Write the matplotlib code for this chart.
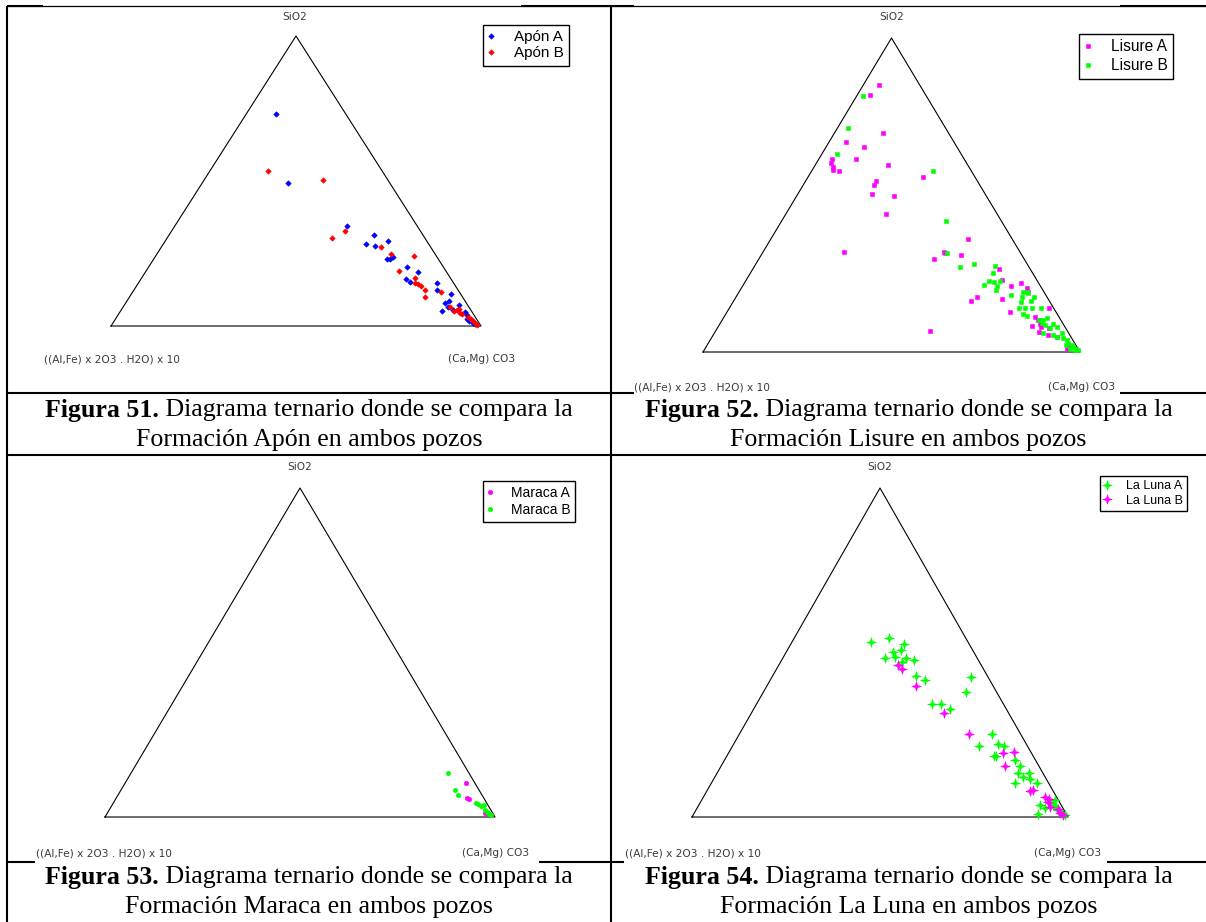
import numpy as np
import matplotlib.pyplot as plt
from matplotlib.path import Path

W, H = 1206, 922

# composiciones: SiO2 % y (Ca,Mg)CO3 %
apon_a_sio2 = [73.2, 49.2, 34.6, 31.5, 28.4, 27.7, 29.4, 23.0, 23.0, 23.7, 20.2, 18.7, 16.1, 15.3, 14.9,
               12.5, 10.9, 8.7, 7.8, 6.7, 7.1, 5.1, 5.5, 4.9, 3.8, 2.3, 1.7, 1.1, 0.7]
apon_a_co3 = [8.0, 23.2, 46.5, 55.2, 54.7, 57.4, 60.2, 63.2, 63.8, 64.4, 70.0, 73.7, 71.6, 73.1, 80.7,
              81.9, 86.5, 87.1, 86.5, 87.8, 90.5, 86.8, 89.8, 93.2, 94.2, 95.2, 96.0, 97.2, 98.0]
apon_b_sio2 = [53.6, 50.4, 32.9, 30.4, 27.1, 24.7, 24.0, 19.1, 16.7, 14.9, 14.5, 13.9, 12.5, 9.9, 11.8,
               6.7, 5.2, 5.5, 4.6, 4.1, 6.0, 3.2, 2.4, 1.7, 0.9, 0.3]
apon_b_co3 = [15.7, 32.1, 46.7, 44.6, 59.3, 63.3, 70.0, 68.3, 73.8, 74.7, 75.7, 76.9, 78.7, 80.0, 83.2,
              88.3, 90.1, 90.8, 92.0, 92.8, 91.1, 95.0, 96.0, 96.9, 97.9, 98.7]

lisure_a_sio2 = [85.0, 81.8, 69.7, 66.8, 65.3, 61.5, 61.4, 60.1, 59.0, 58.0, 57.6, 59.6, 55.7, 54.5, 53.2,
                 50.3, 49.7, 44.0, 31.8, 35.9, 31.8, 31.4, 30.9, 29.6, 6.7, 26.4, 22.8, 21.0, 21.9, 20.5,
                 19.0, 17.6, 16.2, 16.9, 12.7, 13.9, 11.1, 10.2, 8.9, 8.3, 7.9, 6.5, 7.5, 5.4, 4.9, 1.0, 1.7]
lisure_a_co3 = [4.3, 3.4, 12.8, 4.5, 10.1, 9.8, 3.4, 3.8, 5.0, 5.6, 7.2, 19.2, 30.5, 18.6, 18.8,
                19.8, 25.9, 26.6, 21.5, 52.4, 47.9, 48.5, 53.1, 46.5, 56.9, 65.4, 67.9, 71.1, 73.4, 75.6,
                76.8, 63.9, 63.1, 70.9, 75.1, 84.8, 82.6, 83.7, 84.9, 83.0, 85.8, 85.8, 88.1, 88.9, 91.4, 96.0, 96.5]
lisure_b_sio2 = [81.5, 71.3, 63.0, 57.6, 41.7, 31.5, 27.1, 28.0, 27.4, 25.1, 22.7, 22.4, 21.0, 22.6, 19.7,
                 21.3, 18.2, 19.2, 19.2, 18.7, 17.5, 17.6, 16.2, 16.0, 13.9, 13.9, 13.9, 12.1, 11.6, 13.9,
                 10.2, 10.2, 10.7, 9.1, 8.6, 8.9, 7.5, 7.9, 6.0, 5.4, 6.1, 4.7, 4.4, 3.8, 2.8, 2.2, 1.5,
                 1.1, 0.6, 2.2, 0.9, 0.5]
lisure_b_co3 = [1.6, 2.8, 4.0, 32.1, 43.6, 49.1, 54.6, 57.9, 63.8, 64.4, 64.6, 66.1, 67.4, 67.5, 67.8,
                63.9, 72.5, 75.2, 76.3, 76.9, 79.0, 75.7, 78.8, 76.3, 77.0, 78.5, 80.2, 78.8, 80.1, 82.6,
                84.1, 85.2, 86.0, 85.3, 86.4, 88.5, 88.3, 90.0, 87.3, 90.1, 92.1, 91.5, 93.4, 94.6, 95.5, 96.7, 97.5,
                98.4, 98.4, 95.2, 96.9, 99.2]

maraca_a_sio2 = [10.2, 5.9, 5.6, 1.1, 0.9]
maraca_a_co3 = [87.4, 89.9, 90.6, 96.9, 97.8]
maraca_b_sio2 = [13.4, 8.3, 6.7, 4.3, 3.9, 3.3, 3.7, 2.1, 1.6, 1.1, 0.8, 0.6]
maraca_b_co3 = [81.2, 85.6, 87.1, 92.9, 93.8, 94.7, 95.4, 96.4, 97.1, 97.7, 98.1, 98.7]

luna_a_sio2 = [53.3, 54.5, 52.5, 50.8, 50.1, 48.7, 48.4, 48.2, 47.2, 47.8, 42.9, 41.6, 42.6, 38.1, 34.3,
               34.3, 32.8, 25.2, 22.2, 21.6, 21.6, 18.5, 18.5, 17.3, 15.5, 13.3, 12.1, 13.3, 11.5, 10.4,
               10.4, 3.6, 0.9, 5.2, 3.6, 3.0, 2.1, 1.3, 0.6, 2.6, 4.3]
luna_a_co3 = [20.9, 25.1, 30.1, 30.1, 28.5, 29.7, 27.2, 32.8, 32.2, 35.2, 38.1, 41.3, 52.9, 53.7, 46.8,
              49.2, 52.3, 67.1, 70.4, 72.3, 65.6, 71.1, 71.7, 77.2, 79.5, 80.1, 82.1, 83.0, 84.2, 80.7,
              86.6, 90.7, 91.5, 94.0, 94.3, 95.3, 96.4, 97.7, 98.9, 92.6, 93.1]
luna_b_sio2 = [46.2, 45.0, 39.9, 31.5, 25.3, 19.5, 19.9, 15.5, 8.0, 8.2, 6.0, 5.4, 4.7, 3.0, 2.3, 1.1, 0.6]
luna_b_co3 = [31.8, 33.4, 39.6, 51.3, 61.0, 72.9, 75.7, 75.5, 85.9, 86.7, 90.9, 92.3, 92.2, 93.7, 96.3, 97.3, 98.3]

numeros = ['51', '52', '53', '54']
formaciones = ['Apón', 'Lisure', 'Maraca', 'La Luna']

# vertices: arcilla (0,0), carbonato (0,100), SiO2 (100,0)
vert_sio2 = [0, 0, 100, 0]
vert_co3 = [0, 100, 0, 0]


def tern(sio2, co3):
    s = np.asarray(sio2) / 100.0
    c = np.asarray(co3) / 100.0
    return c + s / 2.0, s


star4 = Path.unit_regular_star(4, innerCircle=0.32)

paneles = [
    # triangulo (izq, der, base, vertice), etiquetas, leyenda, pie
    dict(tri=(111, 481, 326, 36), sio2=(295, 17), lab_y=359, lab_l=44, lab_r=448,
         leg=(482.5, 25), legfs=11, legsp=0.14, cap_y=(410, 440),
         series=[(apon_a_sio2, apon_a_co3, '#0000ff', 'D', 2.8, 'Apón A'),
                 (apon_b_sio2, apon_b_co3, '#ff0000', 'D', 2.8, 'Apón B')]),
    dict(tri=(703, 1080, 352, 38), sio2=(891.5, 17.5), lab_y=387, lab_l=634, lab_r=1048,
         leg=(1079, 34), legfs=11.2, legsp=0.24, cap_y=(410, 440),
         series=[(lisure_a_sio2, lisure_a_co3, '#ff00ff', 's', 2.9, 'Lisure A'),
                 (lisure_b_sio2, lisure_b_co3, '#00ff00', 's', 2.9, 'Lisure B')]),
    dict(tri=(105, 495, 817, 488), sio2=(299.6, 467), lab_y=853, lab_l=36, lab_r=462,
         leg=(482.5, 481), legfs=10, legsp=0.24, cap_y=(877, 907),
         series=[(maraca_a_sio2, maraca_a_co3, '#ff00ff', 'o', 3.2, 'Maraca A'),
                 (maraca_b_sio2, maraca_b_co3, '#00ff00', 'o', 3.2, 'Maraca B')]),
    dict(tri=(692, 1068, 817, 488), sio2=(880, 467), lab_y=853, lab_l=625, lab_r=1034.5,
         leg=(1100, 475.5), legfs=9, legsp=0.22, cap_y=(877, 907),
         series=[(luna_a_sio2, luna_a_co3, '#00ff00', star4, 7, 'La Luna A'),
                 (luna_b_sio2, luna_b_co3, '#ff00ff', star4, 7, 'La Luna B')]),
]

fig = plt.figure(figsize=(W / 100, H / 100), dpi=100)
bg = fig.add_axes([0, 0, 1, 1])
bg.set_xlim(0, W)
bg.set_ylim(H, 0)
bg.axis('off')

# lineas de la tabla
lk = dict(color='black', lw=1.5, solid_capstyle='butt')
bg.plot([7, 7], [6, H], **lk)
bg.plot([611, 611], [6, H], **lk)
bg.plot([7, W], [6, 6], color='black', lw=0.9)
for a, b in [(7, 43), (521, 634), (1120, W)]:
    bg.plot([a, b], [6, 6], **lk)
bg.plot([7, 611], [393, 393], **lk)
bg.plot([611, 634], [393, 393], **lk)
bg.plot([1120, W], [393, 393], **lk)
bg.plot([7, W], [455, 455], **lk)
for a, b in [(7, 35), (539, 624), (1107, W)]:
    bg.plot([a, b], [862, 862], **lk)

lab_kw = dict(fontsize=7.6, color='#3a3a3a', family='DejaVu Sans', va='center')

for k, p in enumerate(paneles):
    x0, x1, yb, ya = p['tri']
    ax = fig.add_axes([x0 / W, 1 - yb / H, (x1 - x0) / W, (yb - ya) / H])
    ax.set_xlim(0, 1)
    ax.set_ylim(0, 1)
    ax.axis('off')
    tx, ty = tern(vert_sio2, vert_co3)
    ax.plot(tx, ty, color='black', lw=0.8, clip_on=False)
    handles = []
    for s, c, col, mk, ms, name in p['series']:
        px, py = tern(s, c)
        h, = ax.plot(px, py, linestyle='none', marker=mk, ms=ms, color=col,
                     mec=col, mew=0.4, clip_on=False, label=name)
        handles.append(h)
    leg = ax.legend(handles=handles, loc='upper left',
                    bbox_to_anchor=(p['leg'][0] / W, 1 - p['leg'][1] / H),
                    bbox_transform=fig.transFigure, borderaxespad=0,
                    prop=dict(family='Liberation Sans', size=p['legfs']),
                    numpoints=1, handlelength=0.4, handletextpad=1.3,
                    borderpad=0.35, labelspacing=p['legsp'], fancybox=False,
                    framealpha=1, edgecolor='black')
    leg.get_frame().set_linewidth(1.0)

    bg.text(p['sio2'][0], p['sio2'][1], 'SiO2', ha='center', **lab_kw)
    bg.text(p['lab_l'], p['lab_y'], '((Al,Fe) x 2O3 . H2O) x 10', ha='left', **lab_kw)
    bg.text(p['lab_r'], p['lab_y'], '(Ca,Mg) CO3', ha='left', **lab_kw)

# pies de figura: parte en negrita y parte normal
r = fig.canvas.get_renderer()
cap_kw = dict(family='Liberation Serif', fontsize=18.6, va='center', ha='left')
centros = [309, 908.5, 309, 908.5]
for k, p in enumerate(paneles):
    cx = centros[k]
    y1, y2 = p['cap_y']
    t1 = bg.text(0, y1, 'Figura %s.' % numeros[k], fontweight='bold', **cap_kw)
    t2 = bg.text(0, y1, ' Diagrama ternario donde se compara la', **cap_kw)
    w1 = t1.get_window_extent(r).width
    w2 = t2.get_window_extent(r).width
    start = cx - (w1 + w2) / 2
    t1.set_x(start)
    t2.set_x(start + w1)
    bg.text(cx, y2, 'Formación %s en ambos pozos' % formaciones[k],
            **dict(cap_kw, ha='center'))

fig.savefig('out.png', dpi=100)
